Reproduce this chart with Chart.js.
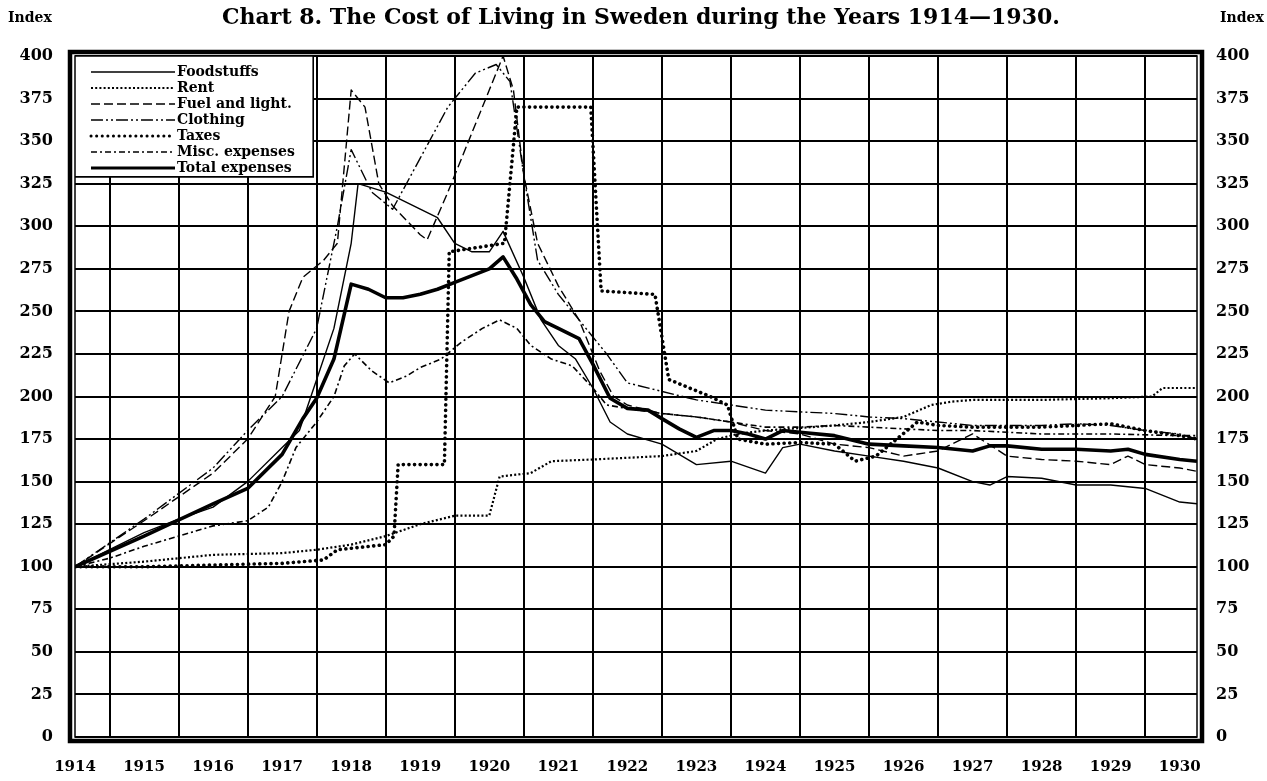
<!DOCTYPE html>
<html><head><meta charset="utf-8">
<script src="https://cdn.jsdelivr.net/npm/chart.js@4.4.1/dist/chart.umd.min.js"></script>
<style>
html,body{margin:0;padding:0;background:#fff;}
#wrap{position:relative;width:1267px;height:781px;overflow:hidden;}
canvas{position:absolute;left:0;top:0;}
.t{position:absolute;font-family:"DejaVu Serif",serif;font-weight:bold;color:#000;white-space:nowrap;}
</style></head><body>
<div id="wrap">
<canvas id="c" width="1267" height="781"></canvas>
<div class="t" style="left:0;width:1282px;text-align:center;top:3px;font-size:22px;">Chart 8. The Cost of Living in Sweden during the Years 1914—1930.</div>
<div class="t" style="left:8px;top:9px;font-size:14px;">Index</div>
<div class="t" style="left:1220px;top:9px;font-size:14px;">Index</div>
</div>
<script>
// ---- data (index, 1914 = 100) ----
const yearTicks = [1914,1914.5,1915,1915.5,1916,1916.5,1917,1917.5,1918,1918.5,1919,1919.5,1920,1920.5,1921,1921.5,1922,1922.5,1923,1923.5,1924,1924.5,1925,1925.5,1926,1926.5,1927,1927.5,1928,1928.5,1929,1929.5,1930];
const indexTicks = [0,25,50,75,100,125,150,175,200,225,250,275,300,325,350,375,400];

const foodYears  = [1914,1914.5,1915,1915.5,1916,1916.5,1917,1917.25,1917.5,1917.75,1918,1918.1,1918.5,1918.75,1919,1919.25,1919.5,1919.75,1920,1920.2,1920.5,1920.75,1921,1921.25,1921.5,1921.75,1922,1922.5,1923,1923.5,1924,1924.25,1924.5,1925,1925.5,1926,1926.5,1927,1927.25,1927.5,1928,1928.5,1929,1929.5,1930,1930.25];
const foodValues = [100,110,120,128,135,150,170,180,210,240,290,325,320,315,310,305,290,285,285,297,270,245,230,222,205,185,178,172,160,162,155,170,172,168,165,162,158,150,148,153,152,148,148,146,138,137];

const rentYears  = [1914,1915,1916,1917,1917.5,1918,1918.5,1919,1919.3,1919.5,1920,1920.15,1920.6,1920.9,1921.5,1922.5,1923,1923.3,1923.6,1924,1925,1925.5,1926,1926.4,1926.7,1927,1928,1929,1929.6,1929.75,1930.25];
const rentValues = [100,103,107,108,110,113,118,125,128,130,130,153,155,162,163,165,168,175,178,180,183,185,188,195,197,198,198,199,200,205,205];

const fuelYears  = [1914,1915,1916,1916.5,1916.9,1917.1,1917.3,1917.6,1917.8,1918,1918.2,1918.4,1918.6,1919,1919.1,1919.4,1919.7,1920,1920.2,1920.35,1920.5,1920.7,1921,1921.3,1921.6,1921.8,1922,1922.5,1923,1923.5,1924,1924.5,1925,1925.5,1926,1926.5,1927,1927.5,1928,1928.5,1929,1929.25,1929.5,1930,1930.25];
const fuelValues = [100,127,155,175,200,250,270,280,290,380,370,325,312,295,292,320,350,380,400,380,330,290,265,245,215,200,195,190,188,185,180,178,172,170,165,168,178,165,163,162,160,165,160,158,156];

const clothYears  = [1914,1915,1916,1916.5,1917,1917.5,1917.8,1918,1918.3,1918.6,1919,1919.4,1919.8,1920.1,1920.3,1920.5,1920.7,1921,1921.4,1921.7,1922,1922.5,1923,1923.5,1924,1925,1925.5,1926,1926.5,1927,1927.5,1928,1928.5,1929,1929.5,1930,1930.25];
const clothValues = [100,128,158,180,200,240,300,345,320,310,340,370,390,395,385,330,280,260,240,225,208,203,198,195,192,190,188,187,185,183,183,183,184,183,180,178,175];

const taxYears  = [1914,1915,1916,1917,1917.6,1917.8,1918.5,1918.62,1918.68,1919.35,1919.42,1920.22,1920.4,1921.47,1921.62,1922.4,1922.6,1922.9,1923.2,1923.45,1923.6,1924,1924.5,1925,1925.3,1925.6,1925.9,1926.2,1926.5,1927,1928,1929,1929.5,1930,1930.25];
const taxValues = [100,100,101,102,104,110,113,118,160,160,285,290,370,370,262,260,210,205,200,195,175,172,173,172,162,165,175,185,183,182,182,184,180,177,175];

const miscYears  = [1914,1914.5,1915,1915.5,1916,1916.5,1916.8,1917,1917.2,1917.5,1917.75,1917.9,1918.05,1918.3,1918.55,1918.8,1919,1919.3,1919.6,1919.9,1920.15,1920.4,1920.6,1920.9,1921.2,1921.5,1921.7,1922,1922.5,1923,1923.5,1924,1924.5,1925,1925.5,1926,1926.5,1927,1927.5,1928,1929,1930,1930.25];
const miscValues = [100,105,112,118,124,127,135,150,170,185,200,218,225,215,208,212,217,222,232,240,245,240,230,222,218,205,195,193,190,188,185,182,182,183,182,181,180,180,179,178,178,177,177];

const totalYears  = [1914,1915,1916,1916.5,1917,1917.3,1917.5,1917.75,1918,1918.25,1918.5,1918.75,1919,1919.25,1919.5,1919.75,1920,1920.2,1920.4,1920.6,1920.8,1921,1921.3,1921.5,1921.75,1922,1922.3,1922.5,1922.75,1923,1923.25,1923.5,1923.75,1924,1924.25,1924.5,1925,1925.5,1926,1926.5,1927,1927.25,1927.5,1928,1928.5,1929,1929.25,1929.5,1930,1930.25];
const totalValues = [100,118,137,146,166,187,199,222,266,263,258,258,260,263,267,271,275,282,269,254,244,240,234,219,199,193,192,187,181,176,180,180,178,175,180,179,177,172,171,170,168,171,171,169,169,168,169,166,163,162];

const seriesNames = ['Foodstuffs','Rent','Fuel and light.','Clothing','Taxes','Misc. expenses','Total expenses'];

// ---- styles ----
const styles = [
  {w:1.4, dash:[], cap:'butt'},
  {w:2.2, dash:[2,2.2], cap:'butt'},
  {w:1.4, dash:[9,4], cap:'butt'},
  {w:1.4, dash:[12,3,2,3,2,3], cap:'butt'},
  {w:3.6, dash:[0.1,5.5], cap:'round'},
  {w:1.6, dash:[6,3,2,3], cap:'butt'},
  {w:3.6, dash:[], cap:'butt'}
];
const pairs = [[foodYears,foodValues],[rentYears,rentValues],[fuelYears,fuelValues],[clothYears,clothValues],[taxYears,taxValues],[miscYears,miscValues],[totalYears,totalValues]];

const datasets = pairs.map((p,i)=>({
  label: seriesNames[i],
  data: p[0].map((x,j)=>({x:x, y:p[1][j]})),
  borderColor:'#000', backgroundColor:'#000',
  borderWidth: styles[i].w, borderDash: styles[i].dash, borderCapStyle: styles[i].cap,
  borderJoinStyle:'round', pointRadius:0, tension:0, fill:false, yAxisID:'y'
}));

const FONT = '"DejaVu Serif", serif';

const framePlugin = {
  id:'frame',
  afterDatasetsDraw(chart){
    const ctx = chart.ctx, a = chart.chartArea;
    const xs = chart.scales.x, ys = chart.scales.y;
    ctx.save();
    // legend box
    const bx = xs.getPixelForValue(1917.45), by = ys.getPixelForValue(329);
    ctx.fillStyle='#fff';
    ctx.fillRect(a.left, a.top, bx-a.left, by-a.top);
    ctx.strokeStyle='#000'; ctx.lineWidth=1.6; ctx.setLineDash([]);
    ctx.beginPath(); ctx.moveTo(bx,a.top); ctx.lineTo(bx,by); ctx.lineTo(a.left,by); ctx.stroke();
    chart.data.datasets.forEach((ds,i)=>{
      const y = a.top + 16 + i*16;
      ctx.save();
      ctx.setLineDash(ds.borderDash||[]);
      ctx.lineWidth = Math.min(ds.borderWidth, 3);
      ctx.lineCap = ds.borderCapStyle||'butt';
      ctx.beginPath(); ctx.moveTo(a.left+16,y); ctx.lineTo(a.left+100,y); ctx.stroke();
      ctx.restore();
      ctx.fillStyle='#000'; ctx.font='bold 14px '+FONT; ctx.textBaseline='middle'; ctx.textAlign='left';
      ctx.fillText(ds.label, a.left+102, y);
    });
    // double frame
    ctx.lineWidth=1.5;
    ctx.strokeRect(a.left, a.top, a.right-a.left, a.bottom-a.top);
    ctx.lineWidth=4.5;
    ctx.strokeRect(a.left-5, a.top-4, a.right-a.left+10, a.bottom-a.top+8);
    ctx.restore();
  }
};

new Chart(document.getElementById('c'), {
  type:'line',
  data:{datasets},
  options:{
    responsive:false, animation:false, devicePixelRatio:1,
    layout:{padding:{top:56,left:0,right:0,bottom:0}},
    plugins:{legend:{display:false}, tooltip:{enabled:false}, title:{display:false}},
    scales:{
      x:{
        type:'linear', min:1914, max:1930.25,
        afterBuildTicks: s => { s.ticks = yearTicks.map(v=>({value:v})); },
        afterFit: s => { s.height = 44; },
        border:{display:false},
        grid:{color: c => (c.tick && !Number.isInteger(c.tick.value)) ? '#000' : 'rgba(0,0,0,0)', lineWidth:2, drawTicks:false},
        ticks:{autoSkip:false, maxRotation:0, padding:21, color:'#000', font:{family:FONT, weight:'bold', size:15},
          callback: v => Number.isInteger(v) ? String(v) : ''}
      },
      y:{
        type:'linear', position:'left', min:0, max:400,
        afterBuildTicks: s => { s.ticks = indexTicks.map(v=>({value:v})); },
        afterFit: s => { s.width = 75; },
        border:{display:false},
        grid:{color:'#000', lineWidth:2, drawTicks:false},
        ticks:{padding:22, color:'#000', font:{family:FONT, weight:'bold', size:16}, callback: v => String(v)}
      },
      y2:{
        type:'linear', position:'right', min:0, max:400,
        afterBuildTicks: s => { s.ticks = indexTicks.map(v=>({value:v})); },
        afterFit: s => { s.width = 70; },
        border:{display:false},
        grid:{drawOnChartArea:false, drawTicks:false},
        ticks:{padding:19, color:'#000', font:{family:FONT, weight:'bold', size:16}, callback: v => String(v)}
      }
    }
  },
  plugins:[framePlugin]
});
</script>
</body></html>
